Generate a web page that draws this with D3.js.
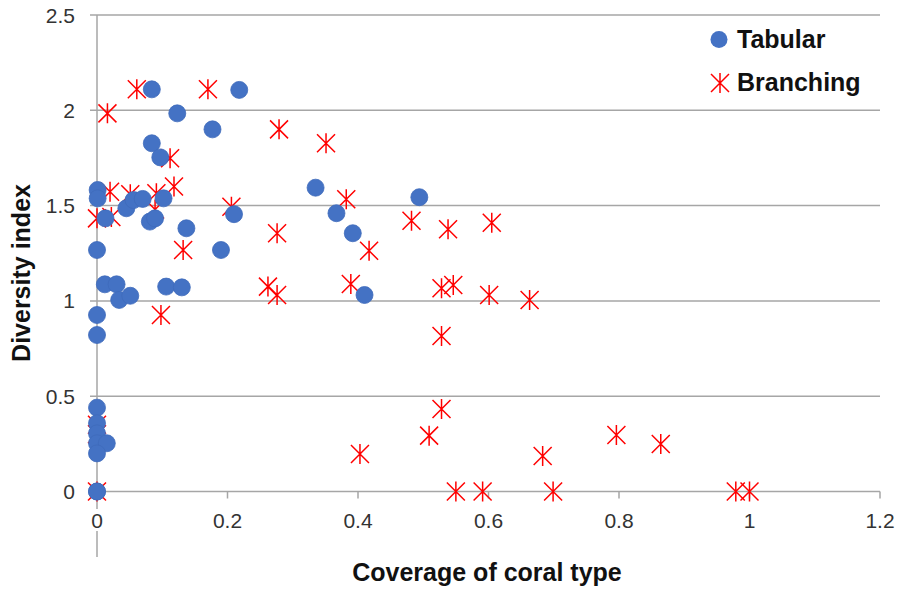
<!DOCTYPE html>
<html><head><meta charset="utf-8">
<script src="https://cdn.jsdelivr.net/npm/d3@7"></script>
<style>
html,body{margin:0;padding:0;background:#fff;}
svg{display:block;}
</style>
</head><body>
<div id="chart"></div>
<script>
const tabularX = [0.084,0.218,0.123,0.177,0.084,0.097,0.001,0.001,0.013,0.045,0.056,0.070,0.102,0.081,0.089,0.137,0,0.190,0.012,0.030,0.106,0.130,0.034,0.051,0,0,0,0,0,0,0.015,0,0,0,0.210,0.335,0.367,0.392,0.410,0.494];
const tabularY = [2.11,2.107,1.984,1.90,1.827,1.753,1.582,1.538,1.433,1.486,1.529,1.535,1.538,1.416,1.433,1.381,1.267,1.267,1.087,1.087,1.075,1.071,1.005,1.027,0.926,0.821,0.44,0.358,0.305,0.253,0.253,0.20,0,0,1.455,1.594,1.46,1.355,1.031,1.544];
const branchingX = [0.061,0.170,0.016,0.112,0.118,0.020,0.051,0.091,0,0.022,0.089,0.206,0.132,0.098,0.279,0.351,0.382,0.276,0.417,0.262,0.276,0.389,0.482,0.538,0.605,0.528,0.546,0.601,0.663,0.528,0.403,0.509,0.528,0.683,0.796,0.864,0.550,0.591,0.699,0.979,1.0,0,0,0];
const branchingY = [2.11,2.11,1.984,1.748,1.60,1.573,1.56,1.565,1.433,1.44,1.48,1.494,1.267,0.926,1.90,1.827,1.533,1.355,1.263,1.075,1.031,1.089,1.421,1.376,1.41,1.066,1.083,1.031,1.005,0.816,0.197,0.293,0.433,0.186,0.296,0.249,0,0,0,0,0,0,0.30,0.35];
const xTicks = [0,0.2,0.4,0.6,0.8,1,1.2];
const yTicks = [0,0.5,1,1.5,2,2.5];
const seriesNames = ["Tabular","Branching"];
const xTitle = "Coverage of coral type";
const yTitle = "Diversity index";

const W = 898, H = 590;
const svg = d3.select("#chart").append("svg").attr("width", W).attr("height", H);
const x = d3.scaleLinear().domain([0,1.2]).range([97,880]);
const y = d3.scaleLinear().domain([0,2.5]).range([491.5,15]);
const grid = "#a6a6a6";
const tickFont = "'Liberation Sans', Arial, sans-serif";

svg.append("g").selectAll("line").data(yTicks).join("line")
  .attr("x1", 90).attr("x2", x(1.2))
  .attr("y1", d => y(d)).attr("y2", d => y(d))
  .attr("stroke", grid).attr("stroke-width", 1.5);

svg.append("line").attr("x1", x(0)).attr("x2", x(0)).attr("y1", y(2.5)).attr("y2", 509)
  .attr("stroke", grid).attr("stroke-width", 1.5);
svg.append("line").attr("x1", x(0)).attr("x2", x(0)).attr("y1", 531).attr("y2", 557)
  .attr("stroke", grid).attr("stroke-width", 1.5);

svg.append("g").selectAll("line").data(xTicks.filter(d => d > 0)).join("line")
  .attr("x1", d => x(d)).attr("x2", d => x(d))
  .attr("y1", y(0)).attr("y2", y(0) + 7)
  .attr("stroke", grid).attr("stroke-width", 1.5);

svg.append("g").selectAll("text").data(yTicks).join("text")
  .attr("x", 75).attr("y", d => y(d) + 7.5)
  .attr("text-anchor", "end")
  .attr("font-family", tickFont).attr("font-size", 21).attr("fill", "#333")
  .text(d => d);

svg.append("g").selectAll("text").data(xTicks).join("text")
  .attr("x", d => x(d)).attr("y", 528)
  .attr("text-anchor", "middle")
  .attr("font-family", tickFont).attr("font-size", 21).attr("fill", "#333")
  .text(d => d);

svg.append("text").attr("x", 487).attr("y", 581).attr("text-anchor", "middle")
  .attr("font-family", "'Liberation Sans', Arial, sans-serif").attr("font-weight", "bold")
  .attr("font-size", 25).attr("fill", "#111").text(xTitle);
svg.append("text").attr("transform", "translate(30,273) rotate(-90)").attr("text-anchor", "middle")
  .attr("font-family", "'Liberation Sans', Arial, sans-serif").attr("font-weight", "bold")
  .attr("font-size", 25).attr("fill", "#111").text(yTitle);

const star = "M-9,-9L9,9M9,-9L-9,9M0,-10L0,10";
const branching = branchingX.map((v,i) => [v, branchingY[i]]);
const tabular = tabularX.map((v,i) => [v, tabularY[i]]);

svg.append("g").selectAll("path").data(branching).join("path")
  .attr("transform", d => `translate(${x(d[0])},${y(d[1])})`)
  .attr("d", star).attr("stroke", "#ff0000").attr("stroke-width", 1.5).attr("fill", "none");

svg.append("g").selectAll("circle").data(tabular).join("circle")
  .attr("cx", d => x(d[0])).attr("cy", d => y(d[1])).attr("r", 8.5)
  .attr("fill", "#4472c4").attr("stroke", "#3f6bbb").attr("stroke-width", 0.8);

const lg = svg.append("g");
lg.append("circle").attr("cx", 719).attr("cy", 39.5).attr("r", 8.5).attr("fill", "#4472c4");
lg.append("path").attr("transform", "translate(720,83)").attr("d", star)
  .attr("stroke", "#ff0000").attr("stroke-width", 1.5).attr("fill", "none");
lg.selectAll("text").data(seriesNames).join("text")
  .attr("x", 737).attr("y", (d,i) => 48 + i*43)
  .attr("font-family", "'Liberation Sans', Arial, sans-serif").attr("font-weight", "bold")
  .attr("font-size", 25).attr("fill", "#111").text(d => d);
</script>
</body></html>
